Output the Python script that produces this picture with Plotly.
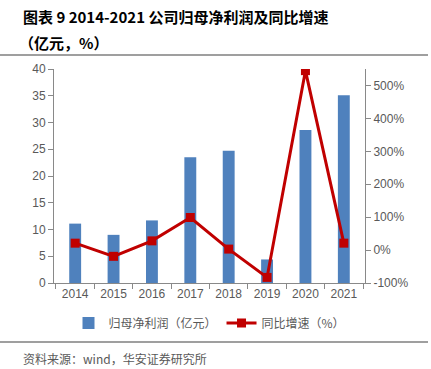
import plotly.graph_objects as go

years = ["2014", "2015", "2016", "2017", "2018", "2019", "2020", "2021"]
profit = [11.1, 9.0, 11.7, 23.5, 24.7, 4.4, 28.6, 35.1]
growth = [21, -19, 28, 99, 3, -83, 545, 21]
right_ticks = [-100, 0, 100, 200, 300, 400, 500]
right_labels = ["-100%", "0%", "100%", "200%", "300%", "400%", "500%"]

W, H = 431, 369
L, R, T, B = 54, 365, 69, 283
PW, PH = R - L, B - T

def px(x):
    return (x - L) / PW

def py(y):
    return (B - y) / PH

fig = go.Figure()
fig.add_trace(go.Bar(x=years, y=profit, name="归母净利润（亿元）",
                     marker=dict(color="#4F81BD", line=dict(width=0)), width=0.31))
fig.add_trace(go.Scatter(x=years, y=growth, name="同比增速（%）", yaxis="y2",
                         mode="lines+markers",
                         line=dict(color="#C00000", width=3),
                         marker=dict(symbol="square", size=9, color="#C00000")))

axis_font = dict(family="Liberation Sans, Arial", size=12, color="#595959")
fig.update_layout(
    width=W, height=H,
    margin=dict(l=L, r=W - R, t=T, b=H - B),
    plot_bgcolor="white", paper_bgcolor="white",
    showlegend=True,
    legend=dict(orientation="h", x=0.5, xanchor="center", y=py(323), yanchor="middle",
                font=dict(family="Noto Sans CJK SC", size=12, color="#595959"),
                itemwidth=30, traceorder="normal"),
    xaxis=dict(type="category", showline=True, linecolor="#898989", linewidth=1,
               ticks="outside", tickson="boundaries", ticklen=5, tickcolor="#898989",
               tickfont=axis_font, showgrid=False),
    yaxis=dict(range=[0, 40], dtick=5, showline=True, linecolor="#898989",
               ticks="outside", ticklen=5, tickcolor="#898989", tickfont=axis_font,
               showgrid=False, zeroline=False),
    yaxis2=dict(range=[-100, 550], overlaying="y", side="right", showline=True,
                linecolor="#898989", ticks="outside", ticklen=5, tickcolor="#898989",
                tickvals=right_ticks, ticktext=right_labels, tickfont=axis_font,
                showgrid=False, zeroline=False),
    font=dict(family="Noto Sans CJK SC"),
)

title_font = dict(family="Noto Sans CJK SC", size=15, color="#000000")
fig.add_annotation(text="<b>图表 9 2014-2021 公司归母净利润及同比增速</b>", xref="paper", yref="paper",
                   x=px(21), y=py(17), xanchor="left", yanchor="middle", showarrow=False,
                   font=title_font)
fig.add_annotation(text="<b>（亿元，%）</b>", xref="paper", yref="paper",
                   x=px(17), y=py(42), xanchor="left", yanchor="middle", showarrow=False,
                   font=title_font)
fig.add_annotation(text="资料来源：wind，华安证券研究所", xref="paper", yref="paper",
                   x=px(21), y=py(358), xanchor="left", yanchor="middle", showarrow=False,
                   font=dict(family="Noto Sans CJK SC", size=12, color="#595959"))
fig.add_shape(type="line", xref="paper", yref="paper", x0=px(0), x1=px(428),
              y0=py(55), y1=py(55), line=dict(color="#7f7f7f", width=1.5))
fig.add_shape(type="line", xref="paper", yref="paper", x0=px(0), x1=px(428),
              y0=py(342), y1=py(342), line=dict(color="#7f7f7f", width=1.5))

fig.write_html("out.html", config={"displayModeBar": False},
               post_script="document.body.style.margin='0';document.body.style.overflow='hidden';")
